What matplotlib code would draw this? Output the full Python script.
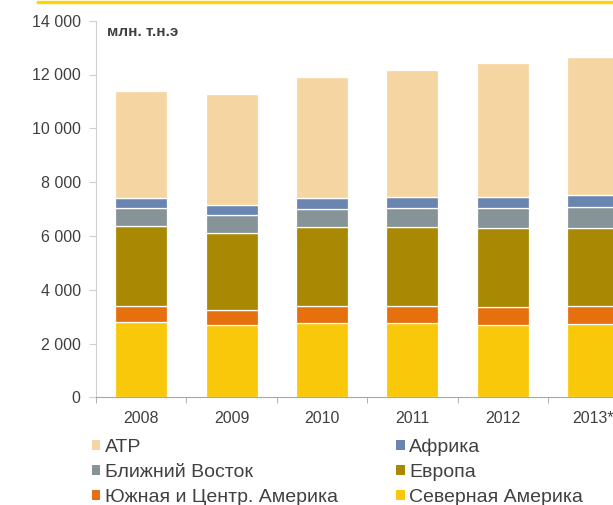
import numpy as np
import matplotlib
matplotlib.use("Agg")
import matplotlib.pyplot as plt
from matplotlib.patches import Patch
from matplotlib.lines import Line2D
from matplotlib.ticker import FuncFormatter

plt.rcParams['font.family'] = ['Liberation Sans', 'DejaVu Sans']

# data (млн. т.н.э)
years = ["2008", "2009", "2010", "2011", "2012", "2013*"]
north_america = [2800, 2680, 2765, 2765, 2705, 2715]
south_central_america = [580, 570, 620, 640, 665, 665]
europe = [3000, 2850, 2940, 2915, 2915, 2925]
middle_east = [640, 665, 690, 730, 765, 780]
africa = [380, 370, 385, 385, 405, 420]
apac = [4000, 4135, 4500, 4750, 4975, 5160]

series = [
    ("Северная Америка", north_america, "#F9C80A"),
    ("Южная и Центр. Америка", south_central_america, "#E5700D"),
    ("Европа", europe, "#A98803"),
    ("Ближний Восток", middle_east, "#869397"),
    ("Африка", africa, "#6A86B0"),
    ("АТР", apac, "#F5D6A3"),
]

text_color = "#404040"

fig = plt.figure(figsize=(6.13, 5.05), dpi=100)
ax = fig.add_axes([96 / 613, 107.7 / 505, 542.4 / 613, 376.6 / 505])

x = np.arange(len(years))
bottom = np.zeros(len(years))
handles = {}
for name, vals, color in series:
    ax.bar(x, vals, width=0.575, bottom=bottom, color=color,
           edgecolor="white", linewidth=0.9)
    bottom += np.array(vals)
    handles[name] = Patch(facecolor=color, edgecolor="none")

ax.set_xlim(-0.5, len(years) - 0.5)
ax.set_ylim(0, 14000)
ax.set_yticks(np.arange(0, 14001, 2000))
ax.yaxis.set_major_formatter(FuncFormatter(lambda v, p: f"{v:,.0f}".replace(",", " ")))
ax.set_xticks(x)
ax.set_xticklabels(years)
ax.set_xticks(np.arange(-0.5, len(years), 1), minor=True)

for s in ["top", "right"]:
    ax.spines[s].set_visible(False)
ax.spines["left"].set_color("#cfcfcf")
ax.spines["bottom"].set_color("#a6a6a6")
ax.tick_params(axis="y", length=5, color="#cfcfcf", labelsize=11.5,
               labelcolor=text_color, pad=6)
ax.tick_params(axis="x", which="major", length=0, labelsize=11.5,
               labelcolor=text_color, pad=10)
ax.tick_params(axis="x", which="minor", length=4, color="#a6a6a6")

fig.text(107 / 613, 1 - 32 / 505, "млн. т.н.э", fontsize=11, fontweight="bold",
         color=text_color, va="center", ha="left")

# yellow line on top
fig.add_artist(Line2D([38 / 613, 1], [1 - 1.5 / 505, 1 - 1.5 / 505],
                      color="#FFD500", linewidth=2.4, transform=fig.transFigure))

order = ["АТР", "Ближний Восток", "Южная и Центр. Америка",
         "Африка", "Европа", "Северная Америка"]
leg = fig.legend([handles[n] for n in order], order, ncol=2,
                 loc="upper left", bbox_to_anchor=(92 / 613, 1 - 438 / 505),
                 frameon=False, fontsize=14, handlelength=0.42, handleheight=0.42,
                 handletextpad=0.25, columnspacing=3.0, labelspacing=0.43,
                 borderpad=0, borderaxespad=0)
for t in leg.get_texts():
    t.set_color(text_color)

fig.savefig("out.png", dpi=100)
